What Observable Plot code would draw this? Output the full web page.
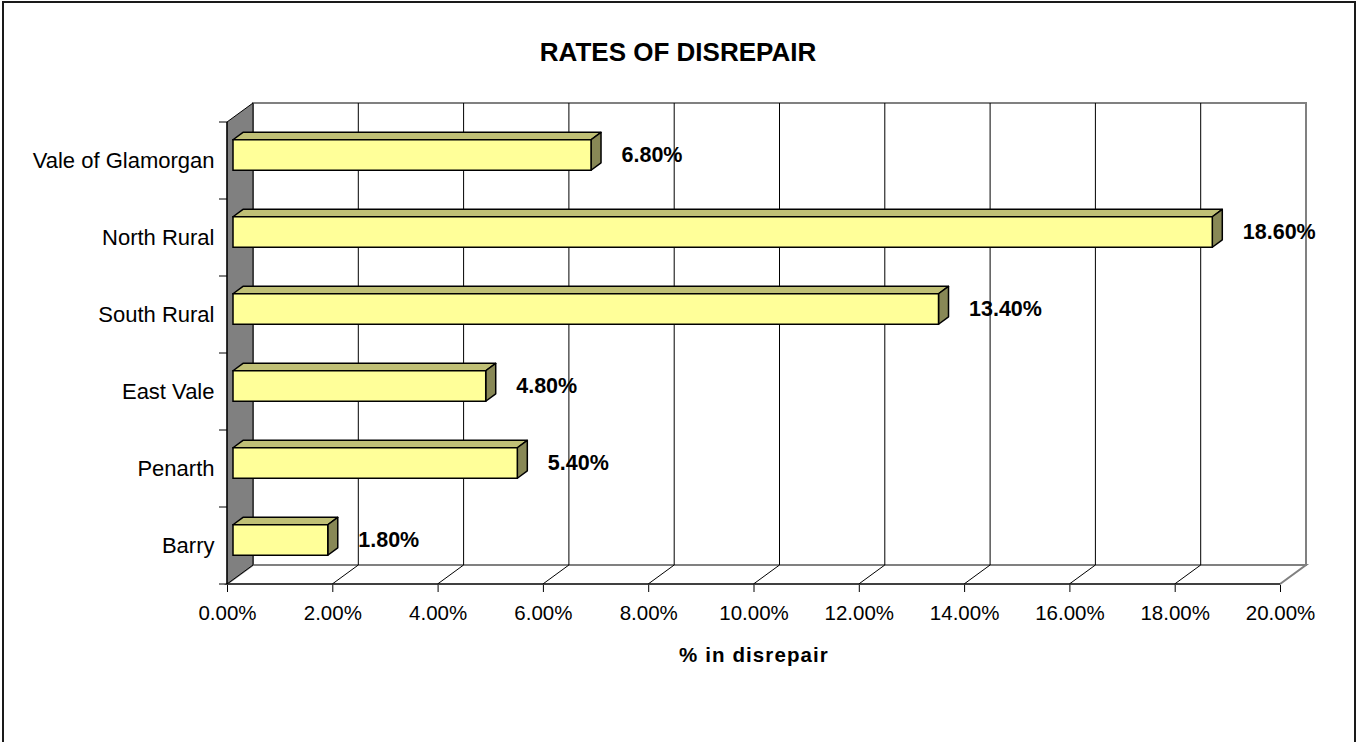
<!DOCTYPE html>
<html>
<head>
<meta charset="utf-8">
<script src="https://cdn.jsdelivr.net/npm/d3@7"></script>
<script src="https://cdn.jsdelivr.net/npm/@observablehq/plot@0.6"></script>
<style>
  body { margin: 0; background: #fff; font-family: Arial, "Liberation Sans", sans-serif; }
  #chart { position: relative; width: 1361px; height: 742px; overflow: hidden; background: #fff; }
  #title { box-sizing: border-box; height: 80px; width: 1356px; padding-top: 39px; line-height: 26px;
           font-size: 26px; font-weight: bold; text-align: center; color: #000; }
  #frame { position: absolute; left: 2px; top: 1px; width: 1354px; height: 800px; box-sizing: border-box;
           border: 2px solid #1a1a1a; pointer-events: none; }
</style>
</head>
<body>
<div id="chart">
  <div id="title">RATES OF DISREPAIR</div>
  <div id="plot"></div>
  <div id="frame"></div>
</div>
<script>
// Share of dwellings in disrepair by area (%)
const categories = ["Vale of Glamorgan", "North Rural", "South Rural", "East Vale", "Penarth", "Barry"];
const values = [6.8, 18.6, 13.4, 4.8, 5.4, 1.8];
const xTicks = [0, 2, 4, 6, 8, 10, 12, 14, 16, 18, 20];
const xTitle = "% in disrepair";

const rows = categories.map((area, i) => ({area, rate: values[i]}));

// Layout of the pseudo-3D box
const W = 1361, H = 662;
const M = {top: 40, right: 81, bottom: 157, left: 227};
const depth = [26, -19];          // front-to-back offset of the walls
const barFront = [6, -5.5];       // bar front plane, relative to the front edge
const barDepth = [10, -7.4];      // thickness of each bar
const bandH = (H - M.top - M.bottom) / categories.length;
const inset = bandH * 0.3;

const pct = d => d.toFixed(2) + "%";

// Walls, floor, gridlines and axis lines
function box(index, {x, y}) {
  const g = d3.create("svg:g");
  const x0 = x(0), x1 = x(20);
  const bw = y.bandwidth ? y.bandwidth() : bandH;
  const yTop = y(categories[0]);
  const yBot = y(categories[categories.length - 1]) + bw;
  const [dx, dy] = depth;
  const poly = pts => pts.map(p => p.join(",")).join(" ");

  g.append("polygon")
    .attr("points", poly([[x0 + dx, yTop + dy], [x1 + dx, yTop + dy], [x1 + dx, yBot + dy], [x0 + dx, yBot + dy]]))
    .attr("fill", "#fff").attr("stroke", "#808080").attr("stroke-width", 2);
  g.append("polygon")
    .attr("points", poly([[x0, yBot], [x1, yBot], [x1 + dx, yBot + dy], [x0 + dx, yBot + dy]]))
    .attr("fill", "#fff").attr("stroke", "#808080").attr("stroke-width", 2);

  for (const t of xTicks.slice(1, -1)) {
    g.append("line")
      .attr("x1", x(t) + dx).attr("x2", x(t) + dx)
      .attr("y1", yTop + dy).attr("y2", yBot + dy)
      .attr("stroke", "#000").attr("stroke-width", 1);
    g.append("line")
      .attr("x1", x(t)).attr("y1", yBot)
      .attr("x2", x(t) + dx).attr("y2", yBot + dy)
      .attr("stroke", "#000").attr("stroke-width", 1);
  }

  g.append("polygon")
    .attr("points", poly([[x0, yTop], [x0 + dx, yTop + dy], [x0 + dx, yBot + dy], [x0, yBot]]))
    .attr("fill", "#808080").attr("stroke", "#000").attr("stroke-width", 1);

  // axis lines
  g.append("line").attr("x1", x0).attr("x2", x0).attr("y1", yTop).attr("y2", yBot)
    .attr("stroke", "#000").attr("stroke-width", 1.2);
  g.append("line").attr("x1", x0).attr("x2", x1).attr("y1", yBot).attr("y2", yBot)
    .attr("stroke", "#000").attr("stroke-width", 1.2);

  // category boundary ticks
  const bounds = categories.map(c => y(c)).concat([yBot]);
  for (const b of bounds) {
    g.append("line").attr("x1", x0 - 8).attr("x2", x0).attr("y1", b).attr("y2", b)
      .attr("stroke", "#000").attr("stroke-width", 1);
  }
  return g.node();
}

// Top and side faces of the bars
function barFaces(index, {x, y}) {
  const g = d3.create("svg:g").attr("stroke", "#000").attr("stroke-width", 1.5).attr("stroke-linejoin", "round");
  const bw = y.bandwidth ? y.bandwidth() : bandH;
  const [fx, fy] = barFront, [bx, by] = barDepth;
  const poly = pts => pts.map(p => p.join(",")).join(" ");
  for (const d of rows) {
    const xl = x(0) + fx, xr = x(d.rate) + fx;
    const yt = y(d.area) + inset + fy, yb = y(d.area) + bw - inset + fy;
    g.append("polygon").attr("fill", "#C0C076")
      .attr("points", poly([[xl, yt], [xr, yt], [xr + bx, yt + by], [xl + bx, yt + by]]));
    g.append("polygon").attr("fill", "#888856")
      .attr("points", poly([[xr, yt], [xr + bx, yt + by], [xr + bx, yb + by], [xr, yb]]));
  }
  return g.node();
}

const chart = Plot.plot({
  width: W,
  height: H,
  marginTop: M.top,
  marginRight: M.right,
  marginBottom: M.bottom,
  marginLeft: M.left,
  style: {fontFamily: 'Arial, "Liberation Sans", sans-serif', background: "transparent", color: "#000"},
  x: {domain: [0, 20]},
  y: {domain: categories, padding: 0},
  marks: [
    box,
    barFaces,
    Plot.barX(rows, {
      x: "rate", y: "area",
      insetTop: inset, insetBottom: inset,
      dx: barFront[0], dy: barFront[1],
      fill: "#FFFF99", stroke: "#000", strokeWidth: 1.5
    }),
    Plot.text(rows, {
      x: "rate", y: "area", text: d => pct(d.rate),
      textAnchor: "start", dx: 36, dy: -6,
      fontWeight: "bold", fontSize: 21.5, fill: "#000"
    }),
    Plot.axisX(xTicks, {tickSize: 7, tickPadding: 13, tickFormat: pct, fontSize: 20.5, label: null}),
    Plot.axisY({tickSize: 0, tickPadding: 13, fontSize: 22, label: null}),
    Plot.text([xTitle], {
      frameAnchor: "bottom", dy: 76, fontWeight: "bold", fontSize: 20.5, fill: "#000"
    })
  ]
});

// the axis title is set with a little extra tracking
d3.select(chart).selectAll("text")
  .filter(function () { return this.textContent === xTitle; })
  .style("letter-spacing", "1.1px");

document.getElementById("plot").appendChild(chart);
</script>
</body>
</html>
